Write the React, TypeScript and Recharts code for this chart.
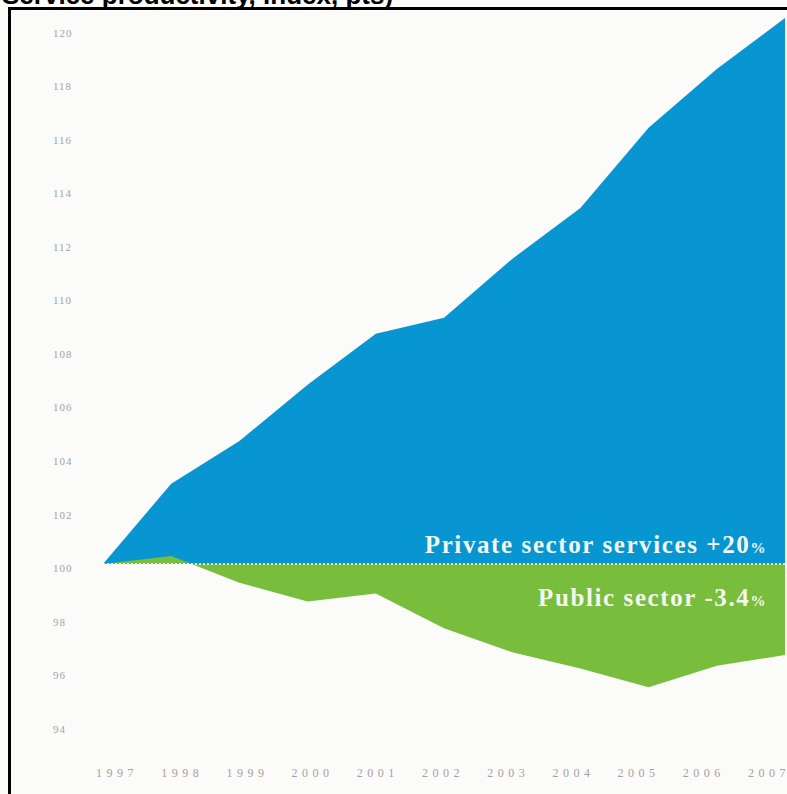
import { Area, AreaChart, ReferenceLine, XAxis, YAxis } from "recharts";

const years = [1997, 1998, 1999, 2000, 2001, 2002, 2003, 2004, 2005, 2006, 2007];
const privateServices = [100, 103.0, 104.6, 106.7, 108.6, 109.2, 111.4, 113.3, 116.3, 118.5, 120.4];
const publicSector = [100, 100.3, 99.3, 98.6, 98.9, 97.6, 96.7, 96.1, 95.4, 96.2, 96.6];
const yTicks = [94, 96, 98, 100, 102, 104, 106, 108, 110, 112, 114, 116, 118, 120];

const BLUE = "#0896d2";
const GREEN = "#78bd3c";
const TICK_GREY = "#a5a29e";

const data = years.map((year, i) => ({
  year,
  privateServices: privateServices[i],
  publicSector: publicSector[i],
}));

// the printed year labels sit a little off the data points, drifting left
function YearTick(props: any) {
  const { x, y, payload, index } = props;
  return (
    <text
      x={x}
      y={y}
      dx={14 - index * 3}
      textAnchor="middle"
      dominantBaseline="central"
      fill={TICK_GREY}
      fontFamily="'Liberation Serif', serif"
      fontSize={12}
      letterSpacing={4.5}
    >
      {payload.value}
    </text>
  );
}

function ValueTick(props: any) {
  const { x, y, payload } = props;
  return (
    <text
      x={x}
      y={y + 4}
      textAnchor="start"
      dominantBaseline="central"
      fill={TICK_GREY}
      fontFamily="'Liberation Serif', serif"
      fontSize={11}
      letterSpacing={1}
    >
      {payload.value}
    </text>
  );
}

function SectorLabels(props: any) {
  const { viewBox } = props;
  const right = viewBox.x + viewBox.width - 18;
  const textStyle = {
    fill: "#f3f7ef",
    fontFamily: "'Liberation Serif', serif",
    fontWeight: 700,
    fontSize: 25,
    letterSpacing: 1.6,
  };
  return (
    <g>
      <text x={right} y={viewBox.y - 11} textAnchor="end" style={textStyle}>
        Private sector services +20<tspan fontSize={15}>%</tspan>
      </text>
      <text x={right} y={viewBox.y + 42} textAnchor="end" style={textStyle}>
        Public sector -3.4<tspan fontSize={15}>%</tspan>
      </text>
    </g>
  );
}

export default function App() {
  return (
    <div
      style={{
        position: "fixed",
        left: 0,
        top: 0,
        width: 787,
        height: 794,
        overflow: "hidden",
        background: "#fbfbfa",
      }}
    >
      {/* title is cropped off the top in the source scan, only its foot shows */}
      <svg
        width={787}
        height={20}
        style={{ position: "absolute", left: 0, top: 0 }}
      >
        <text
          x={2}
          y={3.5}
          fontFamily="'Liberation Sans', Arial, sans-serif"
          fontWeight={700}
          fontSize={26}
          fill="#000"
        >
          Service productivity, index, pts)
        </text>
      </svg>
      <div
        style={{
          position: "absolute",
          left: 8,
          top: 7,
          width: 820,
          height: 820,
          borderLeft: "3px solid #000",
          borderTop: "3px solid #000",
        }}
      />
      <div style={{ position: "absolute", left: 0, top: 0 }}>
        <AreaChart
          width={787}
          height={794}
          data={data}
          baseValue={100}
          margin={{ top: 2, right: 2, left: 0, bottom: 26 }}
        >
          <XAxis
            dataKey="year"
            type="number"
            domain={[1997, 2007]}
            ticks={years}
            axisLine={false}
            tickLine={false}
            tickSize={0}
            tickMargin={35}
            height={30}
            tick={<YearTick />}
            interval={0}
          />
          <YAxis
            type="number"
            domain={[93.5, 121]}
            ticks={yTicks}
            axisLine={false}
            tickLine={false}
            tickSize={0}
            tickMargin={50}
            width={103}
            tick={<ValueTick />}
            interval={0}
            allowDataOverflow
          />
          <Area
            type="linear"
            dataKey="privateServices"
            baseValue={100}
            fill={BLUE}
            fillOpacity={1}
            stroke="none"
            isAnimationActive={false}
          />
          <Area
            type="linear"
            dataKey="publicSector"
            baseValue={100}
            fill={GREEN}
            fillOpacity={1}
            stroke="none"
            isAnimationActive={false}
          />
          <ReferenceLine
            y={100}
            stroke="#ffffff"
            strokeWidth={1.5}
            strokeDasharray="2 2"
            label={<SectorLabels />}
          />
        </AreaChart>
      </div>
    </div>
  );
}
